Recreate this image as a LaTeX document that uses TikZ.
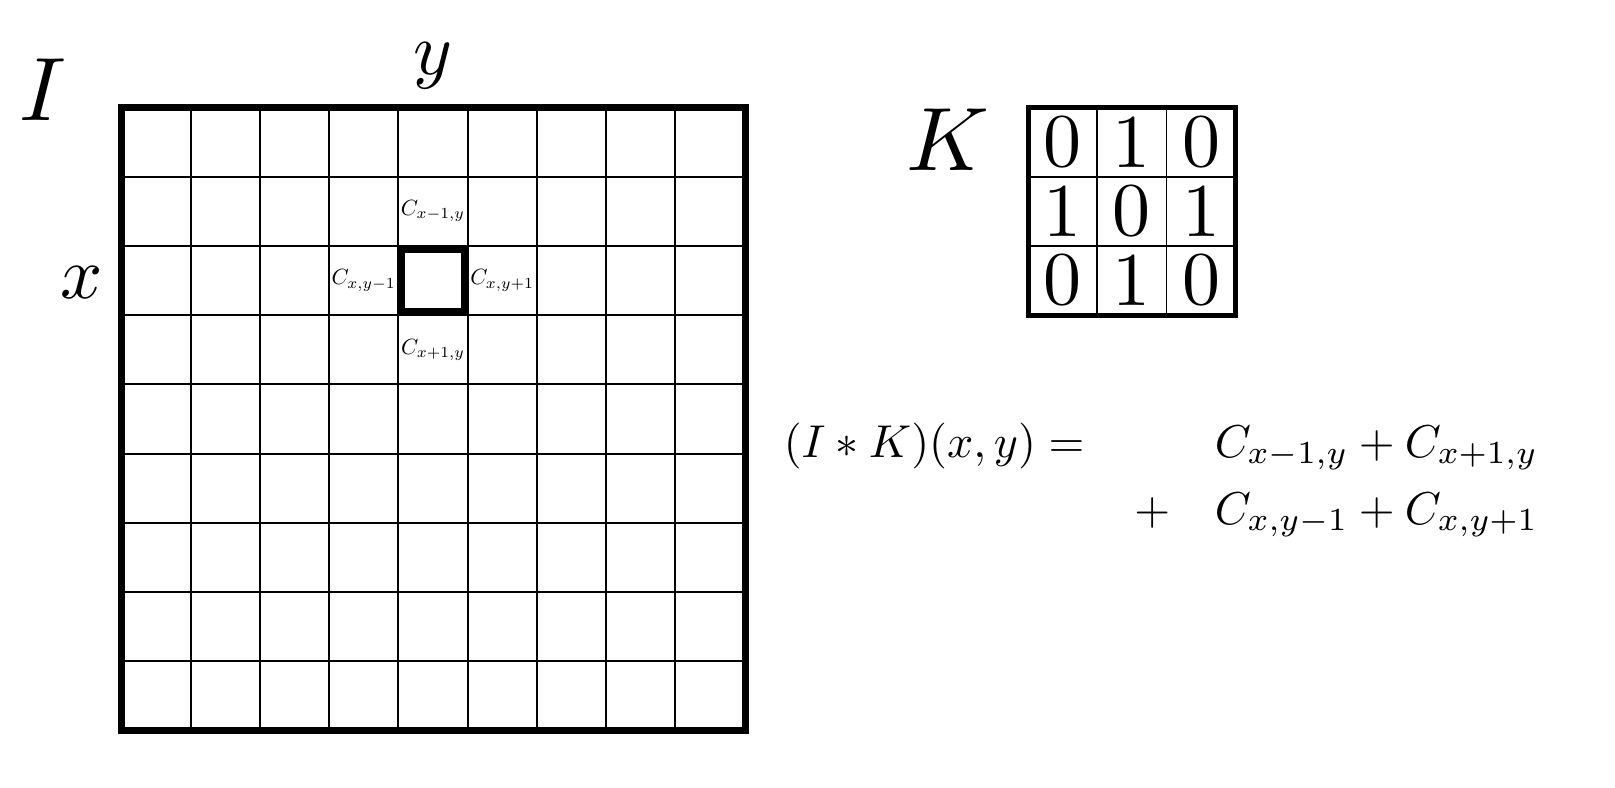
\RequirePackage{fix-cm}
\documentclass[tikz,border=0pt]{standalone}
\newcommand\EqBox[1]{\scalebox{2.3}{#1}}
\newcommand\BigBox[1]{\scalebox{4.5}{#1}}
\newcommand\MidBox[1]{\scalebox{3.7}{#1}}
\newcommand\DigBox[1]{\scalebox{3.8}{#1}}
\begin{document}
\begin{tikzpicture}[x=0.5pt,y=-0.5pt,
  gridline/.style={line width=1pt},
  outerline/.style={line width=3.8pt},
  hiline/.style={line width=3.5pt},
  kline/.style={line width=0.9pt},
  kouter/.style={line width=2.5pt},
  biglbl/.style={inner sep=0pt,anchor=base,font=\normalsize},
  midlbl/.style={inner sep=0pt,anchor=base,font=\normalsize},
  digit/.style={inner sep=0pt,font=\normalsize},
  clbl/.style={inner sep=0pt,font=\fontsize{11}{13}\selectfont},
  eqn/.style={inner sep=0pt,anchor=base west,font=\normalsize}]
\useasboundingbox (0,0) rectangle (1615,787);
% image grid
\foreach \i in {1,...,8}{
  \draw[gridline] (121.5+69.2*\i,107.5) -- (121.5+69.2*\i,730.3);
  \draw[gridline] (121.5,107.5+69.2*\i) -- (745.3,107.5+69.2*\i);
}
\draw[outerline] (121.5,107.5) rectangle (745.3,730.3);
% highlighted cell
\draw[hiline] (398.3+3.5,245.9+3.5) rectangle (467.5-3.5,315.1-3.5);
% labels of the image
\node[biglbl] (lI) at (43,120) {\BigBox{$I$}};
\node[midlbl] (lx) at (82,298) {\MidBox{$x$}};
\node[midlbl] (ly) at (432.5,74) {\MidBox{$y$}};
\node[clbl] (cu) at (432.9,211.3) {$C_{x-1,y}$};
\node[clbl] (cd) at (432.9,349.7) {$C_{x+1,y}$};
\node[clbl] (cl) at (363.7,280.5) {$C_{x,y-1}$};
\node[clbl] (cr) at (502.1,280.5) {$C_{x,y+1}$};
% kernel
\node[biglbl] (lK) at (948,170) {\BigBox{$K$}};
\foreach \i in {1,2}{
  \draw[kline] (1028+69.2*\i,107.5) -- (1028+69.2*\i,315.1);
  \draw[kline] (1028,107.5+69.2*\i) -- (1235.6,107.5+69.2*\i);
}
\draw[kouter] (1028,107.5) rectangle (1235.6,315.1);
\node[digit] (k11) at (1062.6,142.1) {\DigBox{0}};
\node[digit] (k12) at (1131.8,142.1) {\DigBox{1}};
\node[digit] (k13) at (1201.0,142.1) {\DigBox{0}};
\node[digit] (k21) at (1062.6,211.3) {\DigBox{1}};
\node[digit] (k22) at (1131.8,211.3) {\DigBox{0}};
\node[digit] (k23) at (1201.0,211.3) {\DigBox{1}};
\node[digit] (k31) at (1062.6,280.5) {\DigBox{0}};
\node[digit] (k32) at (1131.8,280.5) {\DigBox{1}};
\node[digit] (k33) at (1201.0,280.5) {\DigBox{0}};
% equation
\node[eqn] (lhs) at (783.4,457) {\EqBox{$(I*K)(x,y) =$}};
\node[eqn] (r1) at (1214.4,457) {\EqBox{$C_{x-1,y}+C_{x+1,y}$}};
\node[eqn] (pl) at (1134,524) {\EqBox{$+$}};
\node[eqn] (r2) at (1214.4,524) {\EqBox{$C_{x,y-1}+C_{x,y+1}$}};
\end{tikzpicture}
\end{document}
